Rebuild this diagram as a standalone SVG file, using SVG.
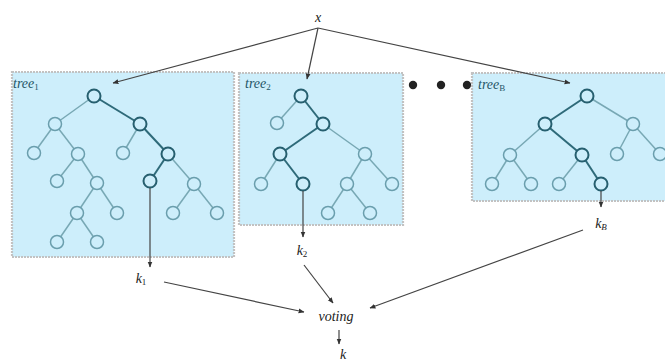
<svg xmlns="http://www.w3.org/2000/svg" width="665" height="361" viewBox="0 0 665 361">
<defs>
<marker id="ah" viewBox="0 0 10 10" refX="9" refY="5" markerWidth="6" markerHeight="6" orient="auto" markerUnits="userSpaceOnUse">
<path d="M0,1 L10,5 L0,9 z" fill="#333"/>
</marker>
<style>
.box{fill:#cdeefb;stroke:#c2c2c2;stroke-width:2.2;stroke-dasharray:2 1}
.e{stroke:#78a8b4;stroke-width:1.5;fill:none}
.eb{stroke:#2e6a79;stroke-width:2;fill:none}
.n{fill:#cdeefb;stroke:#6a9ead;stroke-width:1.5}
.nb{fill:#cdeefb;stroke:#265f6f;stroke-width:2}
.lbl{font-family:"Liberation Serif",serif;font-style:italic;font-size:14px;fill:#1f5566}
.t{font-family:"Liberation Serif",serif;font-style:italic;font-size:14px;fill:#222}
.c{stroke:#444;stroke-width:1.2;fill:none;marker-end:url(#ah)}
</style>
</defs>
<rect width="665" height="361" fill="#fff"/>

<g id="tree1">
<rect class="box" x="12" y="72" width="222" height="185"/>
<text class="lbl" x="13" y="88">tree<tspan font-size="9" dy="2" font-style="normal">1</tspan></text>
<line class="e" x1="94" y1="96" x2="55" y2="124"/>
<line class="eb" x1="94" y1="96" x2="140" y2="124"/>
<line class="e" x1="55" y1="124" x2="34" y2="153"/>
<line class="e" x1="55" y1="124" x2="78" y2="154"/>
<line class="e" x1="140" y1="124" x2="123" y2="153"/>
<line class="eb" x1="140" y1="124" x2="168" y2="154"/>
<line class="e" x1="78" y1="154" x2="57" y2="181"/>
<line class="e" x1="78" y1="154" x2="97" y2="183"/>
<line class="eb" x1="168" y1="154" x2="150" y2="181"/>
<line class="e" x1="168" y1="154" x2="194" y2="184"/>
<line class="e" x1="97" y1="183" x2="77" y2="213"/>
<line class="e" x1="97" y1="183" x2="117" y2="213"/>
<line class="e" x1="194" y1="184" x2="173" y2="213"/>
<line class="e" x1="194" y1="184" x2="217" y2="213"/>
<line class="e" x1="77" y1="213" x2="57" y2="242"/>
<line class="e" x1="77" y1="213" x2="97" y2="242"/>
<circle class="nb" cx="94" cy="96" r="6.5"/>
<circle class="n" cx="55" cy="124" r="6.5"/>
<circle class="nb" cx="140" cy="124" r="6.5"/>
<circle class="n" cx="34" cy="153" r="6.5"/>
<circle class="n" cx="78" cy="154" r="6.5"/>
<circle class="n" cx="123" cy="153" r="6.5"/>
<circle class="nb" cx="168" cy="154" r="6.5"/>
<circle class="n" cx="57" cy="181" r="6.5"/>
<circle class="n" cx="97" cy="183" r="6.5"/>
<circle class="nb" cx="150" cy="181" r="6.5"/>
<circle class="n" cx="194" cy="184" r="6.5"/>
<circle class="n" cx="77" cy="213" r="6.5"/>
<circle class="n" cx="117" cy="213" r="6.5"/>
<circle class="n" cx="173" cy="213" r="6.5"/>
<circle class="n" cx="217" cy="213" r="6.5"/>
<circle class="n" cx="57" cy="242" r="6.5"/>
<circle class="n" cx="97" cy="242" r="6.5"/>
</g>

<g id="tree2">
<rect class="box" x="239" y="73" width="164" height="152"/>
<text class="lbl" x="245" y="88">tree<tspan font-size="9" dy="2" font-style="normal">2</tspan></text>
<line class="e" x1="301" y1="96" x2="277" y2="123"/>
<line class="eb" x1="301" y1="96" x2="323" y2="124"/>
<line class="eb" x1="323" y1="124" x2="280" y2="154"/>
<line class="e" x1="323" y1="124" x2="365" y2="154"/>
<line class="e" x1="280" y1="154" x2="261" y2="184"/>
<line class="eb" x1="280" y1="154" x2="303" y2="184"/>
<line class="e" x1="365" y1="154" x2="347" y2="184"/>
<line class="e" x1="365" y1="154" x2="392" y2="184"/>
<line class="e" x1="347" y1="184" x2="328" y2="213"/>
<line class="e" x1="347" y1="184" x2="370" y2="213"/>
<circle class="nb" cx="301" cy="96" r="6.5"/>
<circle class="n" cx="277" cy="123" r="6.5"/>
<circle class="nb" cx="323" cy="124" r="6.5"/>
<circle class="nb" cx="280" cy="154" r="6.5"/>
<circle class="n" cx="365" cy="154" r="6.5"/>
<circle class="n" cx="261" cy="184" r="6.5"/>
<circle class="nb" cx="303" cy="184" r="6.5"/>
<circle class="n" cx="347" cy="184" r="6.5"/>
<circle class="n" cx="392" cy="184" r="6.5"/>
<circle class="n" cx="328" cy="213" r="6.5"/>
<circle class="n" cx="370" cy="213" r="6.5"/>
</g>

<g id="dots" fill="#222">
<circle cx="413" cy="85" r="4.2"/>
<circle cx="441" cy="85" r="4.2"/>
<circle cx="467" cy="85" r="4.2"/>
</g>

<g id="treeB">
<rect class="box" x="472" y="73" width="200" height="128"/>
<text class="lbl" x="478" y="89">tree<tspan font-size="9" dy="2" font-style="normal">B</tspan></text>
<line class="eb" x1="587" y1="96" x2="545" y2="124"/>
<line class="e" x1="587" y1="96" x2="633" y2="124"/>
<line class="e" x1="545" y1="124" x2="510" y2="155"/>
<line class="eb" x1="545" y1="124" x2="582" y2="155"/>
<line class="e" x1="633" y1="124" x2="617" y2="154"/>
<line class="e" x1="633" y1="124" x2="660" y2="154"/>
<line class="e" x1="510" y1="155" x2="492" y2="184"/>
<line class="e" x1="510" y1="155" x2="531" y2="184"/>
<line class="e" x1="582" y1="155" x2="559" y2="184"/>
<line class="eb" x1="582" y1="155" x2="601" y2="184"/>
<circle class="nb" cx="587" cy="96" r="6.5"/>
<circle class="nb" cx="545" cy="124" r="6.5"/>
<circle class="n" cx="633" cy="124" r="6.5"/>
<circle class="n" cx="510" cy="155" r="6.5"/>
<circle class="nb" cx="582" cy="155" r="6.5"/>
<circle class="n" cx="617" cy="154" r="6.5"/>
<circle class="n" cx="660" cy="154" r="6.5"/>
<circle class="n" cx="492" cy="184" r="6.5"/>
<circle class="n" cx="531" cy="184" r="6.5"/>
<circle class="n" cx="559" cy="184" r="6.5"/>
<circle class="nb" cx="601" cy="184" r="6.5"/>
</g>

<g id="x"><text class="t" x="318" y="22" text-anchor="middle" font-size="15">x</text></g>
<g id="k1"><text class="t" x="141" y="283" text-anchor="middle">k<tspan font-size="9" dy="2" font-style="normal">1</tspan></text></g>
<g id="k2"><text class="t" x="302" y="255" text-anchor="middle">k<tspan font-size="9" dy="2" font-style="normal">2</tspan></text></g>
<g id="kB"><text class="t" x="601" y="228" text-anchor="middle">k<tspan font-size="9" dy="2">B</tspan></text></g>
<g id="voting"><text class="t" x="336" y="321" text-anchor="middle">voting</text></g>
<g id="k"><text class="t" x="343" y="359" text-anchor="middle">k</text></g>

<g id="connectors">
<line class="c" x1="318" y1="28" x2="113" y2="83"/>
<line class="c" x1="318" y1="28" x2="307" y2="79"/>
<line class="c" x1="318" y1="28" x2="570" y2="83"/>
<line class="c" x1="150" y1="188" x2="150" y2="267"/>
<line class="c" x1="303" y1="191" x2="303" y2="237"/>
<line class="c" x1="601" y1="191" x2="601" y2="207"/>
<line class="c" x1="164" y1="282" x2="304" y2="312"/>
<line class="c" x1="304" y1="265" x2="333" y2="303"/>
<line class="c" x1="583" y1="230" x2="370" y2="308"/>
<line class="c" x1="339" y1="330" x2="339" y2="344"/>
</g>
</svg>
